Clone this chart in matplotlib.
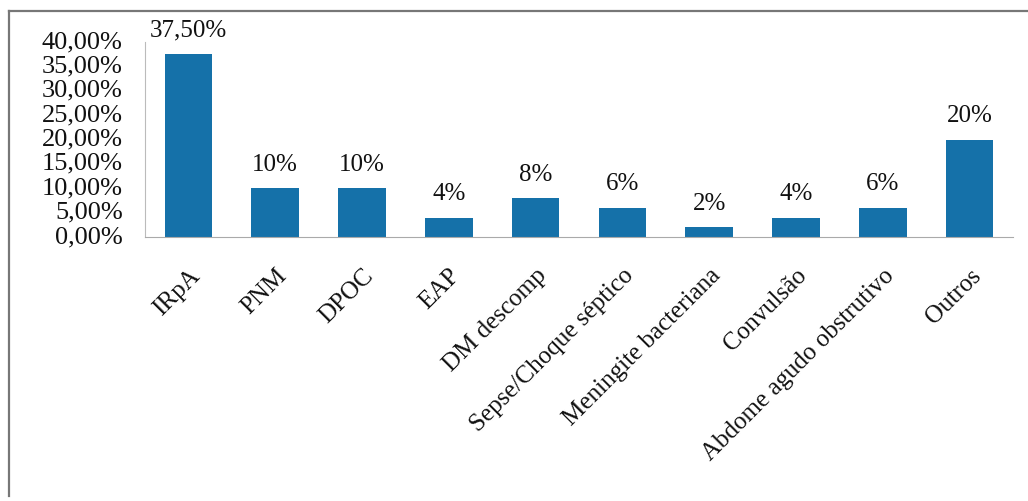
import matplotlib.pyplot as plt
from matplotlib.lines import Line2D

categorias = ['IRpA', 'PNM', 'DPOC', 'EAP', 'DM descomp', 'Sepse/Choque séptico',
              'Meningite bacteriana', 'Convulsão', 'Abdome agudo obstrutivo', 'Outros']
valores = [37.5, 10, 10, 4, 8, 6, 2, 4, 6, 20]
rotulos = ['37,50%', '10%', '10%', '4%', '8%', '6%', '2%', '4%', '6%', '20%']
yticks = [0, 5, 10, 15, 20, 25, 30, 35, 40]

plt.rcParams['font.family'] = ['Liberation Serif', 'DejaVu Serif']

fig = plt.figure(figsize=(10.28, 5.01), dpi=100)
ax = fig.add_axes([145 / 1028, 1 - 237 / 501, 868 / 1028, 195 / 501])

x = range(len(categorias))
ax.bar(x, valores, width=0.55, color='#1571a9')
for i, (v, r) in enumerate(zip(valores, rotulos)):
    ax.annotate(r, (i, v), xytext=(0, 9), textcoords='offset points',
                ha='center', va='bottom', fontsize=18, color='#111111')

ax.set_xlim(-0.5, len(categorias) - 0.5)
ax.set_ylim(0, 40)
ax.set_yticks(yticks)
ax.set_yticklabels([f'{t:.2f}'.replace('.', ',') + '%' for t in yticks], fontsize=19)
ax.tick_params(axis='y', length=0, pad=16, colors='#111111')
ax.set_xticks(list(x))
ax.set_xticklabels(categorias, rotation=45, ha='right', rotation_mode='anchor', fontsize=18)
ax.tick_params(axis='x', length=0, pad=20, colors='#111111')
for lbl in ax.get_yticklabels():
    lbl.set_verticalalignment('center')

for s in ['top', 'right']:
    ax.spines[s].set_visible(False)
ax.spines['left'].set_color('#bbbbbb')
ax.spines['bottom'].set_color('#aaaaaa')

# moldura cinza à esquerda e em cima
fig.add_artist(Line2D([9 / 1028, 1], [1 - 11 / 501, 1 - 11 / 501], color='#777777', lw=1.6))
fig.add_artist(Line2D([9 / 1028, 9 / 1028], [1 - 11 / 501, 0.01], color='#777777', lw=1.6))

fig.savefig('out.png', dpi=100)
